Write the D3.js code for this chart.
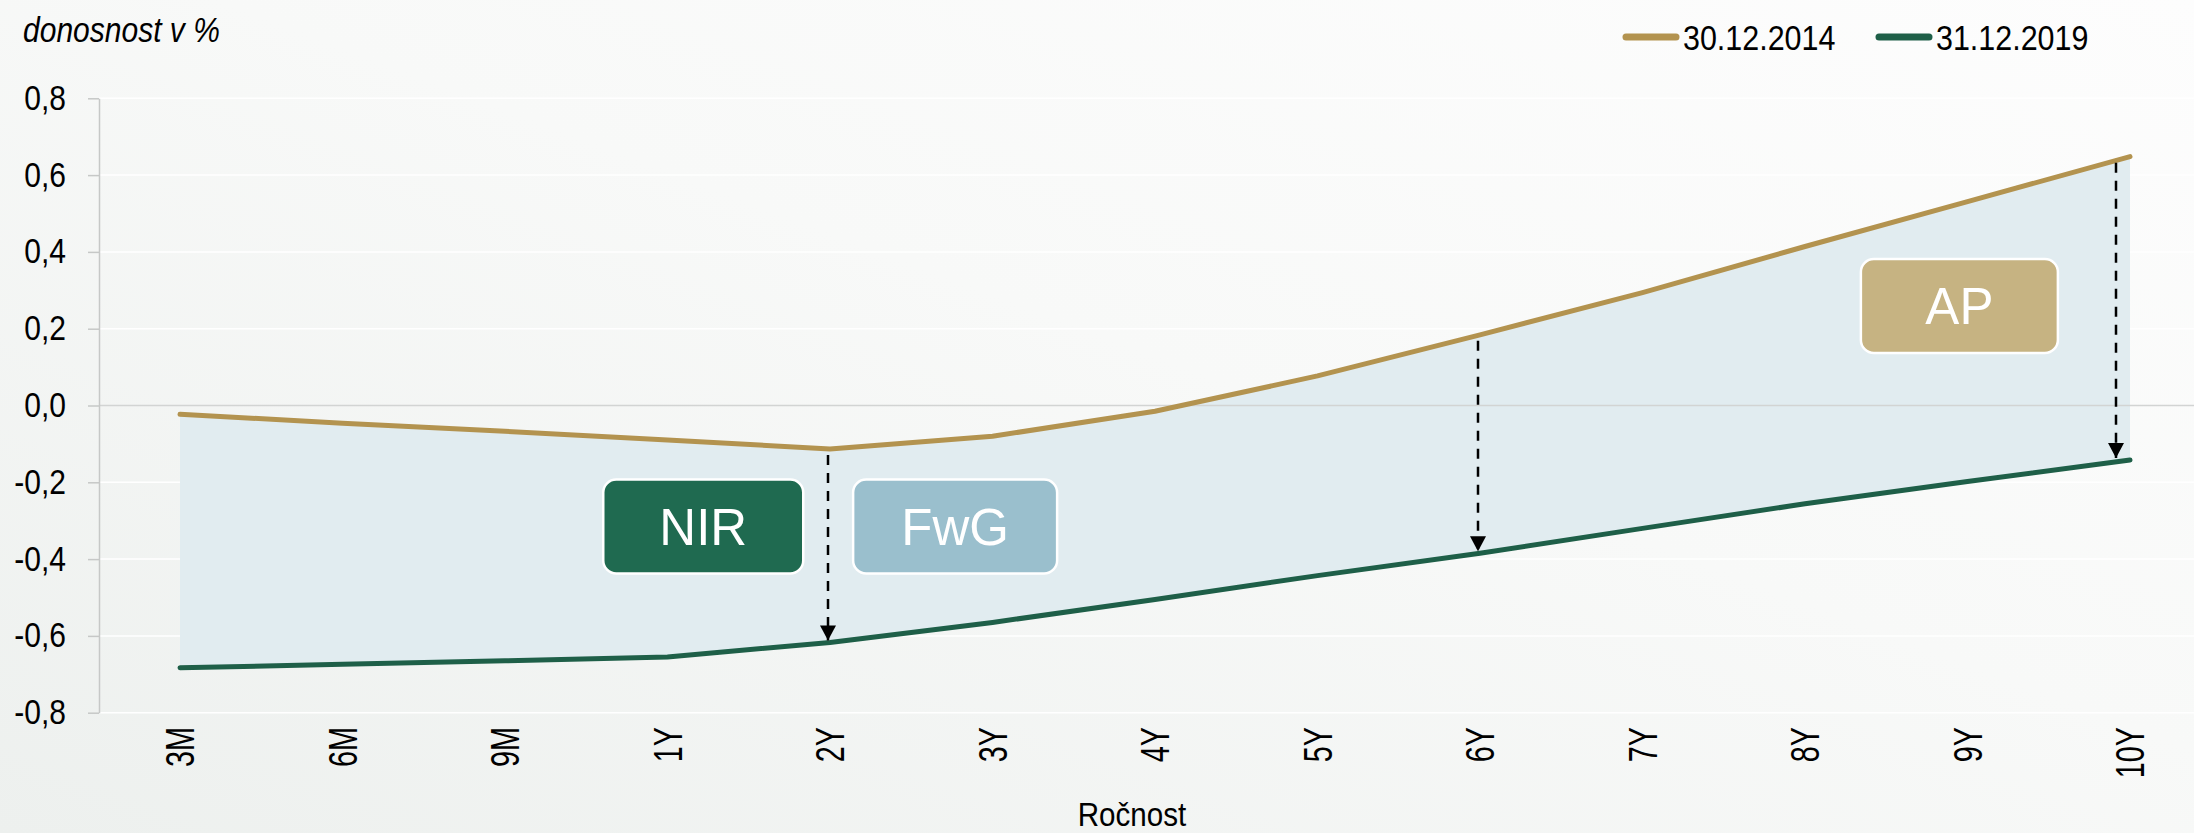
<!DOCTYPE html>
<html>
<head>
<meta charset="utf-8">
<script src="https://cdn.jsdelivr.net/npm/d3@7"></script>
<style>
  html, body { margin: 0; padding: 0; overflow: hidden; background: #f6f7f6; }
  svg { display: block; }
  text { font-family: "Liberation Sans", Arial, sans-serif; }
</style>
</head>
<body>
<svg id="chart" width="2194" height="833"></svg>
<script>
// Yield curves (in %) by maturity
const maturities = ["3M", "6M", "9M", "1Y", "2Y", "3Y", "4Y", "5Y", "6Y", "7Y", "8Y", "9Y", "10Y"];
const yield2014 = [-0.023, -0.046, -0.067, -0.090, -0.113, -0.080, -0.015, 0.077, 0.184, 0.294, 0.414, 0.531, 0.648];
const yield2019 = [-0.683, -0.674, -0.665, -0.655, -0.617, -0.565, -0.505, -0.443, -0.385, -0.320, -0.256, -0.198, -0.142];
const seriesNames = ["30.12.2014", "31.12.2019"];
const yTicks = [-0.8, -0.6, -0.4, -0.2, 0, 0.2, 0.4, 0.6, 0.8];

// Decomposition arrows (from 2014 curve down to 2019 curve)
const arrowMaturities = ["2Y", "6Y", "10Y"];
// Component boxes: label, position on maturity index, yield level
const boxLabels = ["NIR", "FwG", "AP"];
const boxIndex = [3.22, 4.77, 10.95];
const boxLevel = [-0.315, -0.315, 0.259];

const colors = {
  gold: "#b3934f",
  green: "#1e5f48",
  area: "#e1ecf0",
  nir: "#1f6a50",
  fwg: "#9abfcd",
  ap: "#c6b382"
};

const W = 2194, H = 833;
const svg = d3.select("#chart");

// background
const defs = svg.append("defs");
const bg = defs.append("linearGradient").attr("id", "bg")
  .attr("x1", "0").attr("y1", "1").attr("x2", "1").attr("y2", "0");
bg.append("stop").attr("offset", "0").attr("stop-color", "#edf0ee");
bg.append("stop").attr("offset", "0.55").attr("stop-color", "#f8f9f8");
bg.append("stop").attr("offset", "1").attr("stop-color", "#fdfdfd");
svg.append("rect").attr("width", W).attr("height", H).attr("fill", "url(#bg)");

defs.append("marker").attr("id", "arrowhead")
  .attr("viewBox", "0 0 16 15").attr("refX", 8).attr("refY", 15)
  .attr("markerWidth", 16).attr("markerHeight", 15)
  .attr("markerUnits", "userSpaceOnUse").attr("orient", "0")
  .append("path").attr("d", "M0,0 L16,0 L8,15 Z").attr("fill", "#000");

const x = d3.scalePoint().domain(maturities).range([180, 2130]);
const xi = d3.scaleLinear().domain([0, maturities.length - 1]).range([x(maturities[0]), x(maturities[maturities.length - 1])]);
const y = d3.scaleLinear().domain([-0.8, 0.8]).range([712.7, 98.3]);
const plotLeft = 99;

const locale = d3.formatLocale({ decimal: ",", thousands: " ", grouping: [3], currency: ["", ""], minus: "-" });
const fmt = locale.format(".1f");

// squeeze text along its baseline to the narrow face used in the chart
function squeeze(sel, k) {
  sel.each(function () {
    const w = this.getComputedTextLength();
    this.setAttribute("textLength", w * k);
    this.setAttribute("lengthAdjust", "spacingAndGlyphs");
  });
}
const K = 0.87;

// gridlines (white) behind the filled band
svg.append("g").selectAll("line").data(yTicks.filter(d => d !== 0)).join("line")
  .attr("x1", plotLeft).attr("x2", W)
  .attr("y1", d => y(d)).attr("y2", d => y(d))
  .attr("stroke", "#ffffff").attr("stroke-width", 1.5);

// band between curves
const idx = d3.range(maturities.length);
svg.append("path")
  .attr("d", d3.area().x(i => x(maturities[i])).y0(i => y(yield2019[i])).y1(i => y(yield2014[i]))(idx))
  .attr("fill", colors.area);

// zero line
svg.append("line").attr("x1", plotLeft).attr("x2", W).attr("y1", y(0)).attr("y2", y(0))
  .attr("stroke", "#d2d4d3").attr("stroke-width", 1.5);

// y axis
const yAxis = svg.append("g").attr("transform", `translate(${plotLeft},0)`)
  .call(d3.axisLeft(y).tickValues(yTicks).tickFormat(fmt).tickSize(11).tickSizeOuter(0).tickPadding(22));
yAxis.select(".domain").attr("stroke", "#c6c8c7").attr("stroke-width", 1.5);
yAxis.selectAll(".tick line").attr("stroke", "#c6c8c7").attr("stroke-width", 1.5);
yAxis.selectAll(".tick text").attr("font-size", 34.5).attr("fill", "#000")
  .attr("font-family", "'Liberation Sans', Arial, sans-serif").call(squeeze, K);

// y title
svg.append("text").attr("x", 23).attr("y", 42).attr("font-size", 34.5).attr("font-style", "italic")
  .attr("fill", "#000").text("donosnost v %").call(squeeze, K);

// x labels (rotated)
svg.append("g").selectAll("text").data(maturities).join("text")
  .attr("transform", d => `translate(${x(d)},727) rotate(-90)`)
  .attr("text-anchor", "end").attr("dy", "0.36em")
  .attr("font-size", 40).attr("fill", "#000").text(d => d).call(squeeze, 0.72);

svg.append("text").attr("x", 1132).attr("y", 826).attr("text-anchor", "middle")
  .attr("font-size", 34).attr("fill", "#000").text("Ročnost").call(squeeze, K);

// curves
const line = vals => d3.line().x(i => x(maturities[i])).y(i => y(vals[i]))(idx);
svg.append("path").attr("d", line(yield2014)).attr("fill", "none")
  .attr("stroke", colors.gold).attr("stroke-width", 5).attr("stroke-linecap", "round").attr("stroke-linejoin", "round");
svg.append("path").attr("d", line(yield2019)).attr("fill", "none")
  .attr("stroke", colors.green).attr("stroke-width", 5).attr("stroke-linecap", "round").attr("stroke-linejoin", "round");

// arrows
const arrowShift = { "2Y": -2, "6Y": -2, "10Y": -14 };
svg.append("g").selectAll("line").data(arrowMaturities).join("line")
  .attr("x1", d => x(d) + arrowShift[d]).attr("x2", d => x(d) + arrowShift[d])
  .attr("y1", d => y(yield2014[maturities.indexOf(d)]) + 6)
  .attr("y2", d => y(yield2019[maturities.indexOf(d)]) - 2)
  .attr("stroke", "#000").attr("stroke-width", 2.5).attr("stroke-dasharray", "10,8")
  .attr("marker-end", "url(#arrowhead)");

// component boxes
const boxFill = [colors.nir, colors.fwg, colors.ap];
const boxW = [200, 204, 197], boxH = 94;
const boxes = svg.append("g").selectAll("g").data(boxLabels).join("g")
  .attr("transform", (d, i) => `translate(${xi(boxIndex[i])},${y(boxLevel[i])})`);
boxes.append("rect")
  .attr("x", (d, i) => -boxW[i] / 2).attr("y", -boxH / 2)
  .attr("width", (d, i) => boxW[i]).attr("height", boxH)
  .attr("rx", 13).attr("ry", 13)
  .attr("fill", (d, i) => boxFill[i]).attr("stroke", "#ffffff").attr("stroke-width", 2.5);
boxes.append("text").attr("text-anchor", "middle").attr("dy", "0.36em")
  .attr("font-size", 51).attr("fill", "#ffffff").text(d => d);

// legend
const legendX = [1623, 1876];
const legendColors = [colors.gold, colors.green];
const lg = svg.append("g").selectAll("g").data(seriesNames).join("g")
  .attr("transform", (d, i) => `translate(${legendX[i]},37)`);
lg.append("line").attr("x1", 3).attr("x2", 53).attr("y1", 0).attr("y2", 0)
  .attr("stroke", (d, i) => legendColors[i]).attr("stroke-width", 7).attr("stroke-linecap", "round");
lg.append("text").attr("x", 60).attr("y", 13).attr("font-size", 35).attr("fill", "#000")
  .text(d => d).call(squeeze, K);
</script>
</body>
</html>
